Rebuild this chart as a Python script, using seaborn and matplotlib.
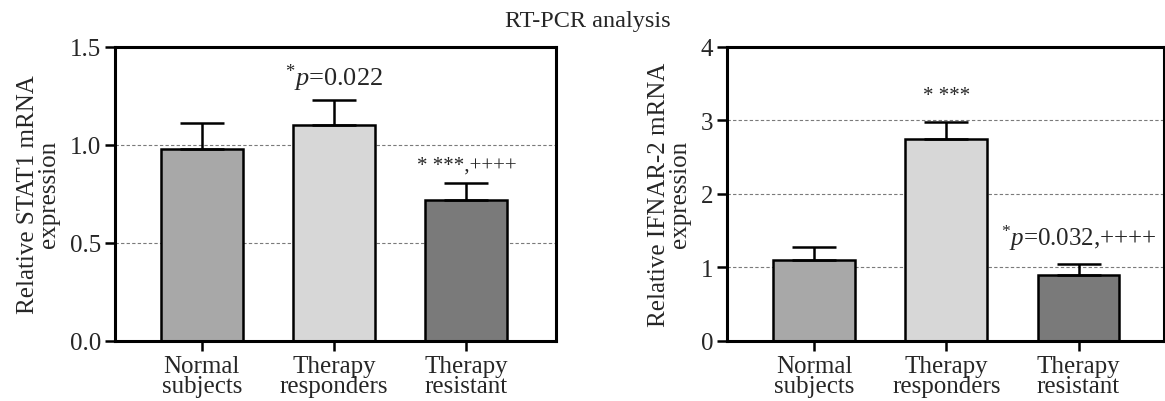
import matplotlib
matplotlib.use("Agg")
import matplotlib.pyplot as plt
import numpy as np
import seaborn as sns

# data
groups = ["Normal\nsubjects", "Therapy\nresponders", "Therapy\nresistant"]
bar_colors = ["#a8a8a8", "#d7d7d7", "#7a7a7a"]

stat1_mean = [0.98, 1.10, 0.72]
stat1_err = [0.133, 0.128, 0.087]
stat1_notes = [None, r"$^{*}p$=0.022", "* ***,++++"]

ifnar_mean = [1.10, 2.75, 0.90]
ifnar_err = [0.17, 0.23, 0.14]
ifnar_notes = [None, "* ***", r"$^{*}p$=0.032,++++"]

sns.set_theme(style="white")
plt.rcParams["font.family"] = ["Liberation Serif", "DejaVu Serif"]
plt.rcParams["mathtext.fontset"] = "custom"
plt.rcParams["mathtext.rm"] = "Liberation Serif"
plt.rcParams["mathtext.it"] = "Liberation Serif:italic"


def draw_panel(ax, means, errs, notes, ylim, yticks, ylabel, fmt, note_offsets, note_sizes, xlim):
    ax.set_axisbelow(True)
    ax.yaxis.grid(True, linestyle=(0, (3, 2)), color="#7a7a7a", linewidth=0.8)
    sns.barplot(x=groups, y=means, hue=groups, palette=bar_colors, legend=False,
                edgecolor="black", linewidth=1.8, width=0.62, ax=ax)
    pos = np.arange(len(groups))
    ax.errorbar(pos, means, yerr=[np.zeros(len(errs)), errs], fmt="none",
                ecolor="black", elinewidth=1.8, capsize=16, capthick=1.8, zorder=1)
    for i, note in enumerate(notes):
        if note is None:
            continue
        ax.annotate(note, xy=(pos[i], means[i] + errs[i]), xytext=(0, note_offsets[i]),
                    textcoords="offset pixels", ha="center", va="baseline",
                    fontsize=note_sizes[i])
    ax.set_ylim(*ylim)
    ax.set_xlim(*xlim)
    ax.set_yticks(yticks)
    ax.set_yticklabels([fmt.format(t) for t in yticks])
    ax.set_ylabel(ylabel, fontsize=18, linespacing=0.95, labelpad=7)
    ax.set_xlabel("")
    ax.tick_params(axis="both", which="both", direction="out", length=7, width=1.8,
                   color="black", labelsize=18, pad=3, left=True, bottom=True)
    for lab in ax.get_xticklabels():
        lab.set_linespacing(0.9)
    for s in ax.spines.values():
        s.set_visible(True)
        s.set_linewidth(2.2)
        s.set_color("black")


fig = plt.figure(figsize=(11.65, 4.02), dpi=100)
ax1 = fig.add_axes([0.0987, 0.150, 0.3785, 0.7313])
ax2 = fig.add_axes([0.624, 0.150, 0.3755, 0.7313])

draw_panel(ax1, stat1_mean, stat1_err, stat1_notes, (0, 1.5), [0, 0.5, 1.0, 1.5],
           "Relative STAT1 mRNA\nexpression", "{:.1f}", [0, 15, 13], [18, 19, 15],
           (-0.655, 2.676))
draw_panel(ax2, ifnar_mean, ifnar_err, ifnar_notes, (0, 4), [0, 1, 2, 3, 4],
           "Relative IFNAR-2 mRNA\nexpression", "{:.0f}", [0, 22, 19], [18, 15, 18],
           (-0.66, 2.65))

fig.text(0.5047, 1 - 27 / 402, "RT-PCR analysis", ha="center", va="baseline", fontsize=17.5)

fig.savefig("out.png", dpi=100)
